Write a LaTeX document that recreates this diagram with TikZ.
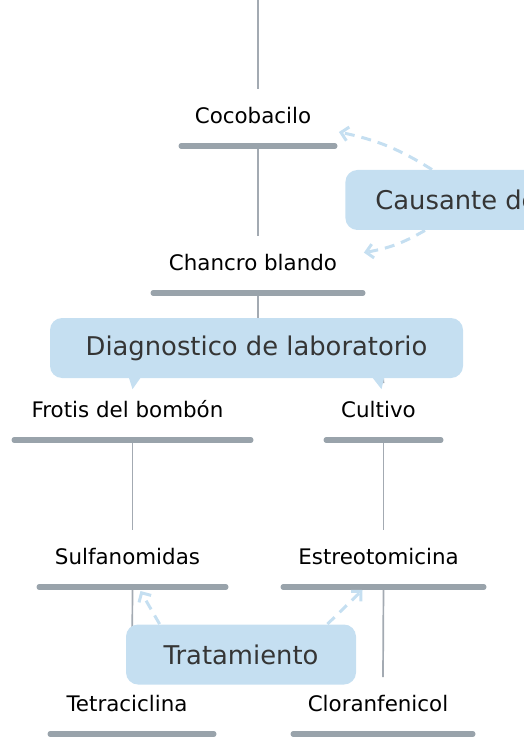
\documentclass[tikz,border=0pt]{standalone}
\usepackage{fontspec}
\setmainfont{DejaVu Sans}
\usetikzlibrary{positioning, calc, arrows.meta}

\definecolor{bargray}{HTML}{99A3AB}
\definecolor{linkgray}{HTML}{A3AAB2}
\definecolor{bubbleblue}{HTML}{C5DFF1}
\definecolor{bubbletext}{HTML}{353535}

\tikzset{
  topic/.style={minimum width=#1, inner xsep=0pt, inner ysep=8.9pt, anchor=south,
    text height=8pt, text depth=2.2pt, font=\fontsize{10.7}{12}\selectfont,
    execute at end node=\hspace{5pt}},
  bar/.style={draw=bargray, line width=2.6pt, line cap=round},
  link/.style={draw=linkgray, line width=0.85pt},
  bubble/.style={fill=bubbleblue, rounded corners=6pt, text=bubbletext,
    font=\fontsize{12.9}{15}\selectfont, minimum height=30pt},
  hint/.style={draw=bubbleblue, line width=1.5pt, dash pattern=on 5pt off 3.5pt,
    -{Straight Barb[length=3.5pt,width=7pt]}},
}

\begin{document}
\begin{tikzpicture}[x=0.5pt, y=-0.5pt]
    \useasboundingbox (0,0) rectangle (524,754);

    % Topics
    \node[topic=76.5pt] (coco) at (258,146) {Cocobacilo};
    \node[topic=104.5pt] (chancro) at (258,293) {Chancro blando};
    \node[topic=118pt] (frotis) at (132.5,440) {Frotis del bombón};
    \node[topic=57pt] (cultivo) at (383.5,440) {Cultivo};
    \node[topic=93pt] (sulfa) at (132.5,587) {Sulfanomidas};
    \node[topic=100pt] (estreo) at (383.5,587) {Estreotomicina};
    \node[topic=81.5pt] (tetra) at (132,734) {Tetraciclina};
    \node[topic=89.5pt] (cloran) at (383,734) {Cloranfenicol};

    % Links between topics
    \coordinate (top) at (258,0);
    \draw[link] (top) -- (coco.north);
    \draw[link] (coco.south) -- (chancro.north);
    \draw[link] (chancro.south) -- ++(0,40) to[out=-90,in=90] (frotis.north);
    \draw[link] (chancro.south) -- ++(0,40) to[out=-90,in=90] (cultivo.north);
    \draw[link] (frotis.south) -- (sulfa.north);
    \draw[link] (cultivo.south) -- (estreo.north);
    \draw[link] (sulfa.south) -- (tetra.north);
    \draw[link] (estreo.south) -- (cloran.north);

    % Underlines
    \foreach \n in {coco,chancro,frotis,cultivo,sulfa,estreo,tetra,cloran}
        \draw[bar] (\n.south west) -- (\n.south east);

    % Callouts
    \node[bubble, minimum width=206.5pt] (diag) at (256.5,348) {Diagnostico de laboratorio};
    \fill[bubbleblue] ([yshift=-3pt]frotis.north) -- ($(diag.south -| frotis.north)+(-4,-2)$)
        -- ($(diag.south -| frotis.north)+(9,-2)$) -- cycle;
    \fill[bubbleblue] ([xshift=-1pt,yshift=-3pt]cultivo.north) -- ($(diag.south -| cultivo.north)+(-12,-2)$)
        -- ($(diag.south -| cultivo.north)+(1,-2)$) -- cycle;
    \node[bubble, anchor=west, inner xsep=15pt] (causa) at (345,200) {Causante de};
    \node[bubble, minimum width=115pt] (trat) at (241,654.5) {Tratamiento};

    % Dashed hints
    \draw[hint] ([xshift=43.5pt]causa.north west) to[bend right=10] ([xshift=2pt,yshift=7pt]coco.south east);
    \draw[hint] ([xshift=40pt]causa.south west) to[bend left=10] ([xshift=0.5pt,yshift=6pt]chancro.east);
    \draw[hint] ([xshift=17pt]trat.north west) -- ([xshift=4pt,yshift=-2pt]sulfa.south);
    \draw[hint] ([xshift=-14.5pt]trat.north east) -- ([xshift=-10.5pt,yshift=-1.5pt]estreo.south);
\end{tikzpicture}
\end{document}
